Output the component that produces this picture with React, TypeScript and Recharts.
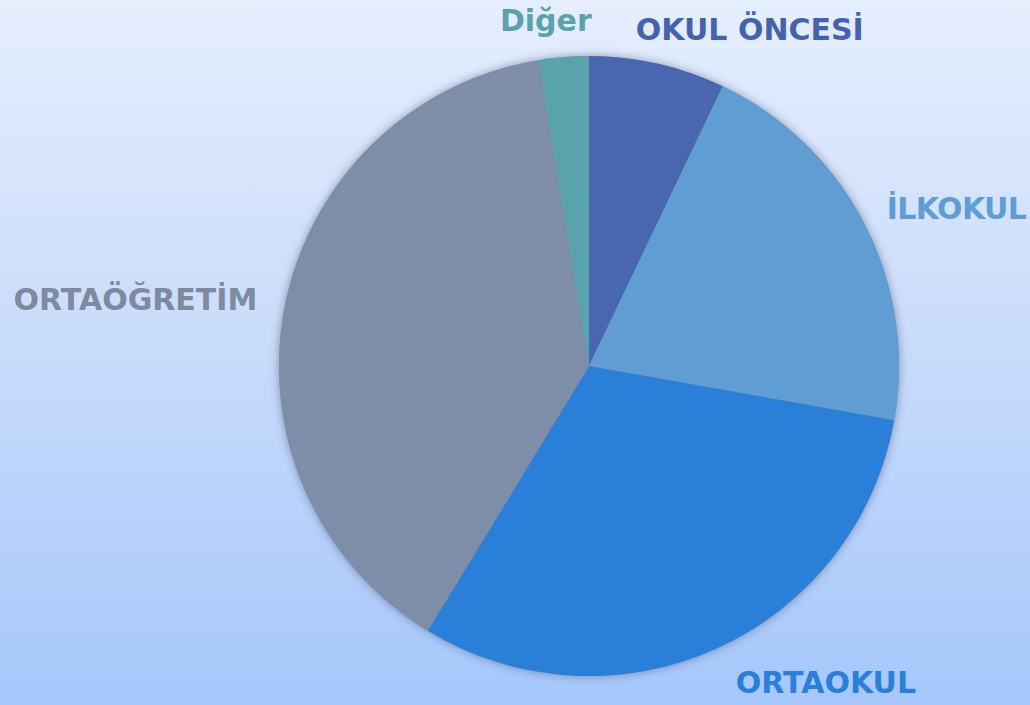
import React from "react";
import { PieChart, Pie, Cell } from "recharts";

const categories = ["OKUL ÖNCESİ", "İLKOKUL", "ORTAOKUL", "ORTAÖĞRETİM", "Diğer"];
const shares = [7.1, 20.7, 30.9, 38.7, 2.6];
const sliceColors = ["#4967b0", "#609dd2", "#2a7fd9", "#7f8ea8", "#58a3ac"];
const labelColors = ["#4563ad", "#5f9dd4", "#2a7fd9", "#7d8aa0", "#5aa3ac"];

const data = categories.map((name, i) => ({ name, value: shares[i] }));
const totalData = [{ name: "total", value: shares.reduce((a, b) => a + b, 0) }];

const RAD = Math.PI / 180;
const nudge: Record<string, [number, number]> = {
  "OKUL ÖNCESİ": [-30, 2],
  "İLKOKUL": [-11, 1],
  "ORTAOKUL": [4, 0],
  "ORTAÖĞRETİM": [9, 0],
  "Diğer": [31, 0],
};

const renderLabel = (props: any) => {
  const { cx, cy, midAngle, outerRadius, name, index } = props;
  const r = outerRadius + 37;
  const x = cx + r * Math.cos(-midAngle * RAD);
  const y = cy + r * Math.sin(-midAngle * RAD);
  const right = Math.cos(-midAngle * RAD) >= 0;
  const [dx, dy] = nudge[name] || [0, 0];
  return (
    <text
      x={x + dx}
      y={y + dy}
      textAnchor={right ? "start" : "end"}
      dominantBaseline="central"
      fill={labelColors[index]}
      fontFamily="'DejaVu Sans', sans-serif"
      fontWeight={700}
      fontSize={30}
      letterSpacing={name === "İLKOKUL" ? -0.6 : 0}
    >
      {name}
    </text>
  );
};

export default function App() {
  return (
    <div
      style={{
        position: "fixed",
        left: 0,
        top: 0,
        width: 1030,
        height: 705,
        background: "linear-gradient(to bottom, #e5eefd 0%, #c8dbfb 50%, #a5c7fb 100%)",
      }}
    >
      <PieChart width={1030} height={705} margin={{ top: 0, right: 0, bottom: 0, left: 0 }}>
        <Pie
          data={totalData}
          dataKey="value"
          cx={589}
          cy={366}
          outerRadius={310}
          startAngle={90}
          endAngle={-270}
          stroke="none"
          isAnimationActive={false}
        >
          <Cell fill="#8090b0" style={{ filter: "drop-shadow(0px 0px 5px rgba(40,50,80,0.45))" }} />
        </Pie>
        <Pie
          data={data}
          dataKey="value"
          nameKey="name"
          cx={589}
          cy={366}
          outerRadius={310}
          startAngle={90}
          endAngle={-270}
          stroke="none"
          label={renderLabel}
          labelLine={false}
          isAnimationActive={false}
        >
          {data.map((d, i) => (
            <Cell key={d.name} fill={sliceColors[i]} />
          ))}
        </Pie>
      </PieChart>
    </div>
  );
}
